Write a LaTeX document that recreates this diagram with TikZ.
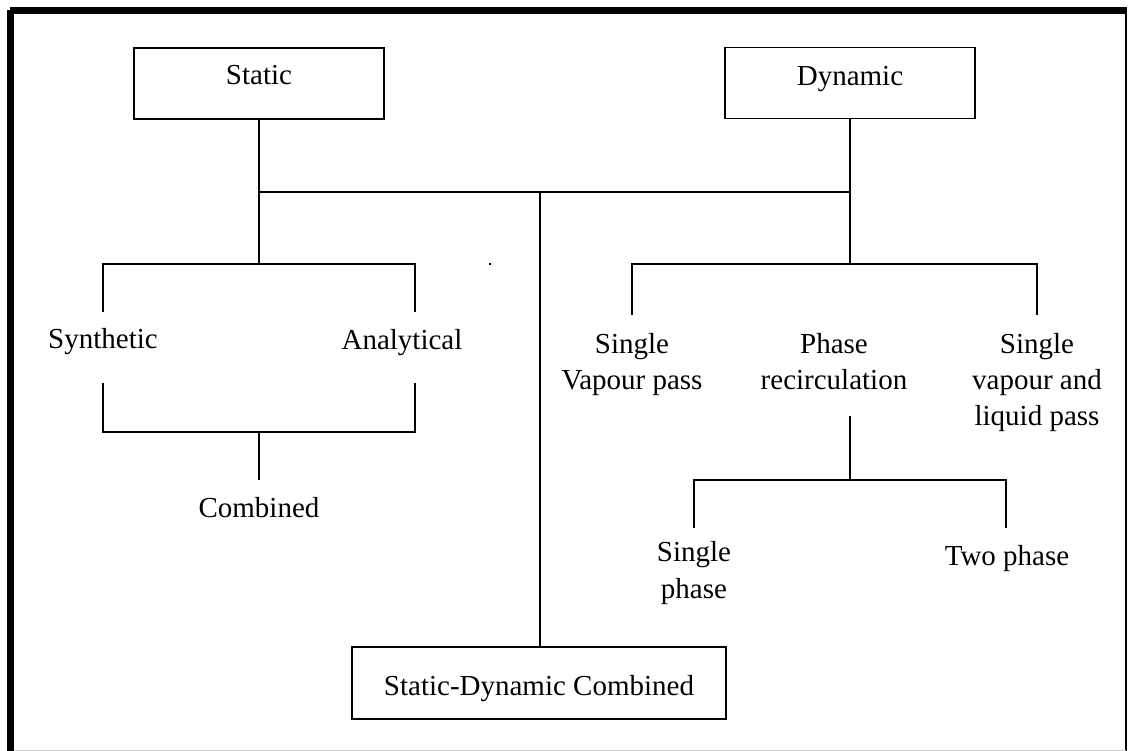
\documentclass[tikz,border=0pt]{standalone}
\usepackage{fontspec}
\setmainfont{Liberation Serif}
\begin{document}
\begin{tikzpicture}[x=1pt,y=-1pt,
  every node/.style={font=\fontsize{29}{36.5}\selectfont, inner sep=0pt},
  box/.style={draw, line width=1.6pt, minimum width=250pt, minimum height=71pt},
  lbl/.style={align=center, anchor=base},
  conn/.style={line width=1.8pt}]
\useasboundingbox (0,0) rectangle (1128,751);
% frame
\fill (10,7) rectangle (1127,14);
\fill (7,10) rectangle (14,751);
\draw[line width=1.6pt] (1126,7) -- (1126,751);
\draw[line width=1pt, gray!40] (14,750.5) -- (1126,750.5);
% boxes
\node[box, text height=20pt, text depth=17pt] (static) at (259,83.5) {Static};
\node[box, text height=21.5pt, text depth=15.5pt] (dynamic) at (850,83) {Dynamic};
\node[box, minimum width=374pt, minimum height=72pt, text height=30pt, text depth=6pt] (sdc) at (539,683) {Static-Dynamic Combined};
% text nodes (base = baseline of last line)
\node[lbl] (synth) at (103,349) {Synthetic};
\node[lbl] (anal) at (402,350) {Analytical};
\node[lbl] (comb) at (259,517) {Combined};
\node[lbl] (svp) at (632,390) {Single\\Vapour pass};
\node[lbl] (phr) at (834,390) {Phase\\recirculation};
\node[lbl] (svl) at (1037,426) {Single\\vapour and\\liquid pass};
\node[lbl] (sph) at (694,598) {Single\\phase};
\node[lbl] (twp) at (1007,565) {Two phase};
% coordinates
\coordinate (busL) at (259,192);
\coordinate (busR) at (850,192);
\coordinate (busC) at (540,192);
\coordinate (lj) at (259,264);
\coordinate (rj) at (850,264);
\coordinate (synTop) at (103,312);
\coordinate (anTop) at (415,312);
\coordinate (synBot) at (103,383);
\coordinate (anBot) at (415,383);
\coordinate (cj) at (259,432);
\coordinate (combTop) at (259,480);
\coordinate (svpTop) at (632,315);
\coordinate (svlTop) at (1037,315);
\coordinate (phrBot) at (850,416);
\coordinate (pj) at (850,480);
\coordinate (sphTop) at (694,528);
\coordinate (twpTop) at (1006,528);
% connectors
\draw[conn] (static.south) -- (busL) -- (lj);
\draw[conn] (dynamic.south) -- (busR) -- (rj);
\draw[conn] (busL) -- (busR);
\draw[conn] (busC) -- (sdc.north -| busC);
\draw[conn] (synTop) |- (lj) -| (anTop);
\draw[conn] (synBot) |- (cj) -| (anBot);
\draw[conn] (cj) -- (combTop);
\draw[conn] (svpTop) |- (rj) -| (svlTop);
\draw[conn] (phrBot) -- (pj);
\draw[conn] (sphTop) |- (pj) -| (twpTop);
% stray dot
\fill (489,263) rectangle (491,265);
\end{tikzpicture}
\end{document}
